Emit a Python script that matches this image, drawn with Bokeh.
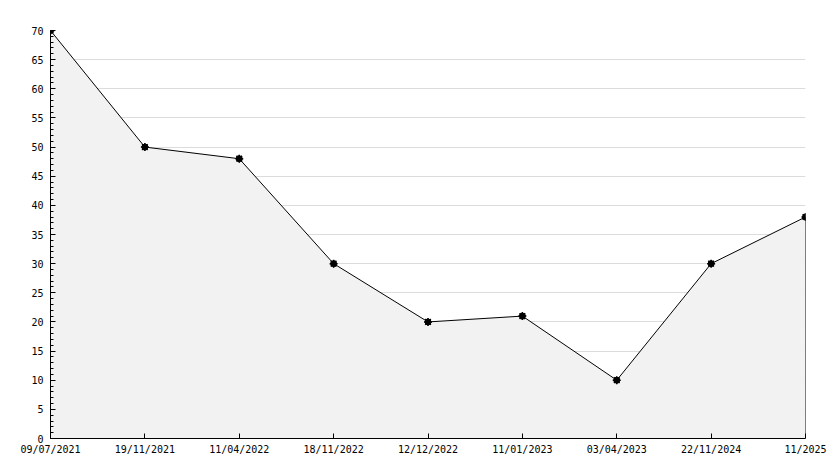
from bokeh.plotting import figure
from bokeh.models import Range1d, FixedTicker
from bokeh.embed import file_html
from bokeh.resources import INLINE

dates = ["09/07/2021", "19/11/2021", "11/04/2022", "18/11/2022", "12/12/2022",
         "11/01/2023", "03/04/2023", "22/11/2024", "11/2025"]
values = [70, 50, 48, 30, 20, 21, 10, 30, 38]
y_ticks = list(range(0, 75, 5))

xs = list(range(len(dates)))

p = figure(width=830, height=460, output_backend="svg", toolbar_location=None,
           x_range=Range1d(0, len(dates) - 1), y_range=Range1d(0, 70),
           min_border_left=50, min_border_right=25, min_border_top=30, min_border_bottom=22)
p.outline_line_color = None
p.background_fill_color = "white"

# area
px = xs + [xs[-1], xs[0]]
py = values + [0, 0]
p.patch(px, py, fill_color="#f2f2f2", line_color=None)
p.segment(x0=[xs[-1]], y0=[0], x1=[xs[-1]], y1=[values[-1]], line_color="black", line_width=1)
p.line(xs, values, line_color="black", line_width=1)
p.scatter(xs, values, marker="circle", size=6, fill_color="black", line_color="black")
p.scatter(xs, values, marker="asterisk", size=8, line_color="black", line_width=1.5)

font = "DejaVu Sans Mono"
# x axis
p.xaxis.ticker = FixedTicker(ticks=xs)
p.xaxis.major_label_overrides = {i: d for i, d in enumerate(dates)}
p.xaxis.major_tick_in = 5
p.xaxis.major_tick_out = 0
p.xaxis.minor_tick_line_color = None
p.xaxis.major_label_standoff = 5
p.xgrid.grid_line_color = None

# y axis
p.yaxis.ticker = FixedTicker(ticks=y_ticks, minor_ticks=list(range(0, 71)))
p.yaxis.major_tick_in = 5
p.yaxis.major_tick_out = 0
p.yaxis.minor_tick_in = 3
p.yaxis.minor_tick_out = 0
p.yaxis.minor_tick_line_color = "black"
p.yaxis.major_label_standoff = 7
p.ygrid.grid_line_color = "#dcdcdc"
p.ygrid.ticker = FixedTicker(ticks=y_ticks)

for ax in [p.xaxis, p.yaxis]:
    ax.axis_line_color = "black"
    ax.major_tick_line_color = "black"
    ax.major_label_text_font = font
    ax.major_label_text_font_size = "10px"
    ax.major_label_text_color = "black"

open("out.html", "w").write(file_html(p, INLINE))
